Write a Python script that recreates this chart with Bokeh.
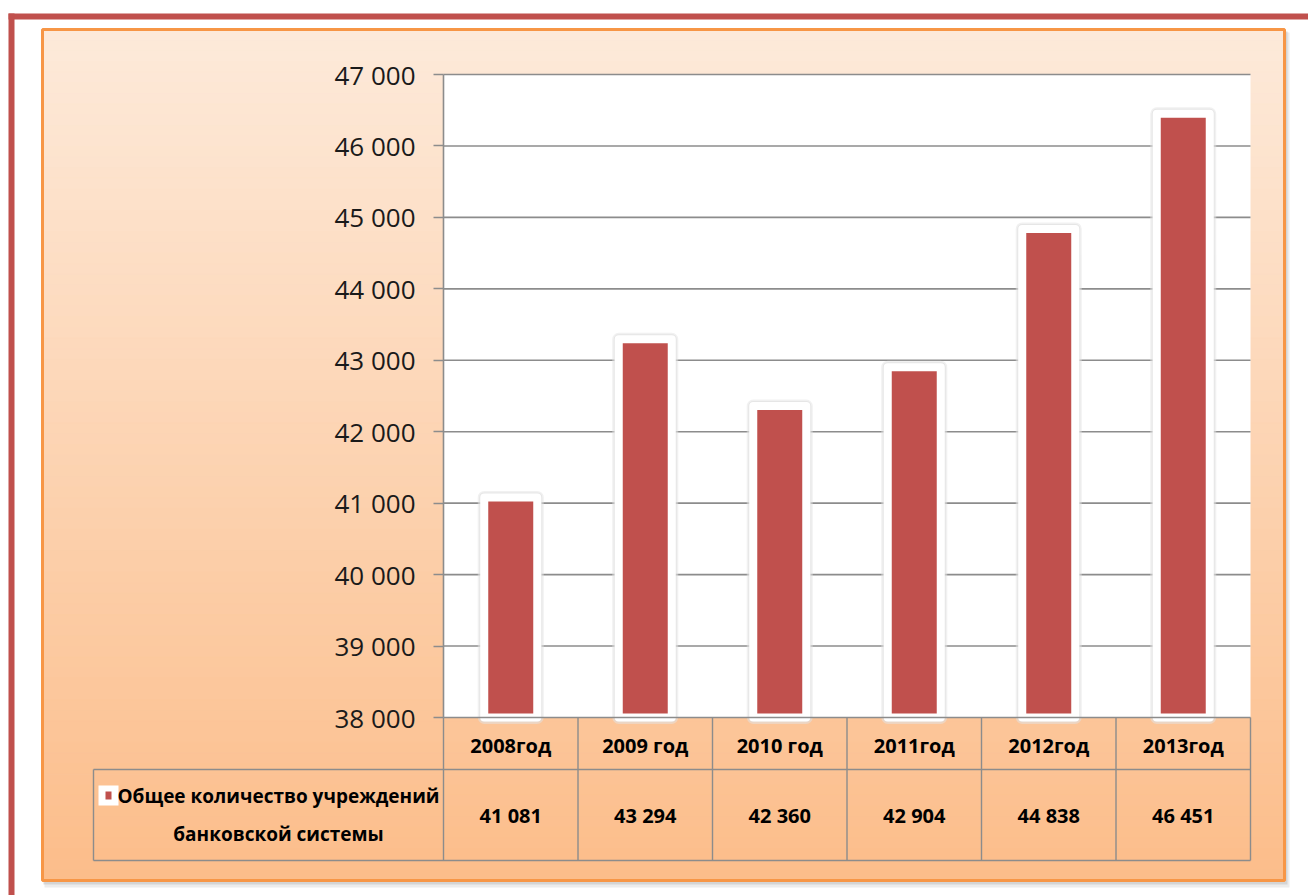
from bokeh.plotting import figure
from bokeh.models import Range1d, FixedTicker, LinearAxis
from bokeh.embed import file_html
from bokeh.resources import INLINE
from bokeh.core.properties import value

# ---------------- data ----------------
categories = ["2008год", "2009 год", "2010 год", "2011год", "2012год", "2013год"]
counts = [41081, 43294, 42360, 42904, 44838, 46451]
series_name = ["Общее количество учреждений", "банковской системы"]
y_ticks = [38000, 39000, 40000, 41000, 42000, 43000, 44000, 45000, 46000, 47000]

def fmt(v):
    return f"{v:,}".replace(",", " ")

count_labels = [fmt(v) for v in counts]
y_tick_labels = {t: fmt(t) for t in y_ticks}

# ---------------- layout geometry (page pixels) ----------------
W, H = 1308, 895
OFF = 0
PLOT_L, PLOT_R = 443, 1250
PLOT_T, PLOT_B = 74, 717
N = len(categories)
Y0, Y1 = y_ticks[0], y_ticks[-1]
PXX = (PLOT_R - PLOT_L) / N
PXY = (PLOT_B - PLOT_T) / (Y1 - Y0)

def X(px):
    return (px - PLOT_L) / PXX

def Y(py):
    return Y0 + (PLOT_B - py) / PXY

p = figure(width=W, height=H, output_backend="svg", toolbar_location=None,
           x_range=Range1d(X(OFF), X(OFF + W)), y_range=Range1d(Y(OFF + H), Y(OFF)),
           x_axis_location=None, y_axis_location=None, min_border=0)
p.outline_line_color = None
p.background_fill_color = "white"
p.border_fill_color = "white"
p.grid.visible = False

RED = "#C0504D"
GRID = "#8C8C8C"

# outer red frame
p.quad(left=[X(8), X(8)], right=[X(1320), X(14)], top=[Y(13), Y(13)], bottom=[Y(19), Y(910)],
       fill_color=RED, line_color=None)

# panel shadow
p.quad(left=X(44), right=X(1289), top=Y(32), bottom=Y(887), fill_color="#e0e0e0", line_color=None, fill_alpha=0.6)
p.quad(left=X(43), right=X(1287), top=Y(31), bottom=Y(884), fill_color="#c4c4c4", line_color=None, fill_alpha=0.6)

# gradient panel
top_c = (253, 234, 218)
bot_c = (252, 189, 138)
n = 80
t0, t1 = 29, 880
lefts, rights, tops, bots, cols = [], [], [], [], []
for i in range(n):
    a = t0 + (t1 - t0) * i / n
    b = t0 + (t1 - t0) * (i + 1) / n
    f = (i + 0.5) / n
    c = tuple(int(round(top_c[k] + (bot_c[k] - top_c[k]) * f)) for k in range(3))
    lefts.append(X(42)); rights.append(X(1284)); tops.append(Y(a)); bots.append(Y(b))
    cols.append("#%02x%02x%02x" % c)
p.quad(left=lefts, right=rights, top=tops, bottom=bots, fill_color=cols, line_color=cols, line_width=1)
p.quad(left=X(42), right=X(1284), top=Y(29), bottom=Y(880), fill_color=None,
       line_color="#F79646", line_width=3)

# plot area
p.quad(left=0, right=N, bottom=Y0, top=Y1, fill_color="white", line_color=None)

# gridlines
gy = [t for t in y_ticks if t != Y0]
p.segment(x0=[0] * len(gy), x1=[N] * len(gy), y0=gy, y1=gy, line_color=GRID, line_width=1.6)

# table lines
tb_row2, tb_bot, tb_left = 769, 860, 93
vx = list(range(N + 1))
p.segment(x0=vx, x1=vx, y0=[Y0] * len(vx), y1=[Y(tb_bot)] * len(vx), line_color=GRID, line_width=1.4)
p.segment(x0=[X(tb_left), X(tb_left), X(tb_left)], x1=[N, N, X(tb_left)],
          y0=[Y(tb_row2), Y(tb_bot), Y(tb_row2)], y1=[Y(tb_row2), Y(tb_bot), Y(tb_bot)],
          line_color=GRID, line_width=1.4)

# bars
centers = [i + 0.5 for i in range(N)]
bw = 0.394
p.vbar(x=centers, top=counts, bottom=Y0, width=bw, fill_color=None,
       line_color="#e4e4e4", line_width=13, line_alpha=0.5, line_join="round")
p.vbar(x=centers, top=counts, bottom=Y0, width=bw, fill_color=None,
       line_color="#dcdcdc", line_width=10, line_alpha=0.5, line_join="round")
p.vbar(x=centers, top=counts, bottom=Y0, width=bw, fill_color=RED,
       line_color="white", line_width=8, line_join="round")

# axes
yaxis = LinearAxis(fixed_location=0, ticker=FixedTicker(ticks=y_ticks), bounds=(Y0, Y1),
                   major_label_overrides=y_tick_labels,
                   axis_line_color=GRID, axis_line_width=1.6,
                   major_tick_line_color=GRID, major_tick_line_width=1.6,
                   major_tick_out=10, major_tick_in=0, minor_tick_out=0, minor_tick_in=0,
                   major_label_standoff=18,
                   major_label_text_font="Open Sans", major_label_text_font_size="26px",
                   major_label_text_color="#1a1a1a")
p.add_layout(yaxis, "left")

xaxis = LinearAxis(fixed_location=Y0, ticker=FixedTicker(ticks=centers), bounds=(0, N),
                   major_label_overrides={c: cat for c, cat in zip(centers, categories)},
                   axis_line_color=GRID, axis_line_width=1.6,
                   major_tick_out=0, major_tick_in=0, minor_tick_out=0, minor_tick_in=0,
                   major_label_standoff=14,
                   major_label_text_font="Open Sans", major_label_text_font_size="20px",
                   major_label_text_font_style="bold", major_label_text_color="#000000")
p.add_layout(xaxis, "below")

# table values
p.text(x=centers, y=[Y((tb_row2 + tb_bot) / 2)] * N, text=count_labels,
       text_align="center", text_baseline="middle", text_font=value("Open Sans"),
       text_font_size="20px", text_font_style="bold", text_color="#000000")

# legend key
p.scatter(x=[X(108)], y=[Y(795)], marker="square", size=20, fill_color="white", line_color=None)
p.rect(x=[X(108)], y=[Y(795)], width=6, height=8, width_units="screen", height_units="screen",
       fill_color=RED, line_color=None)
p.text(x=[X(278)] * 2, y=[Y(795), Y(833)], text=series_name,
       text_align="center", text_baseline="middle", text_font=value("Open Sans"),
       text_font_size="19px", text_font_style="bold", text_color="#000000")

open("out.html", "w").write(file_html(p, INLINE))
